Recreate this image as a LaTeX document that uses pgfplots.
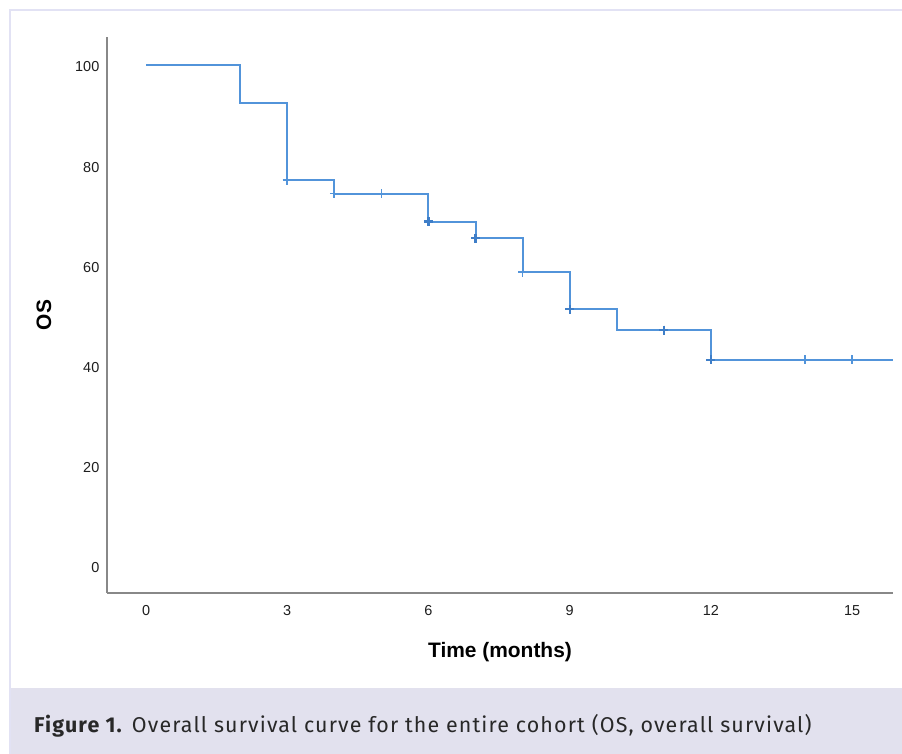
\documentclass[border=0pt]{standalone}
\usepackage{fontspec}
\setmainfont{Liberation Sans}
\newfontfamily\capfont[LetterSpace=5.3]{Fira Sans}
\usepackage{pgfplots}
\pgfplotsset{compat=1.18}
\definecolor{kmblue}{RGB}{82,148,218}
\definecolor{kmdark}{RGB}{62,126,200}
\definecolor{axgray}{RGB}{136,136,136}
\definecolor{band}{RGB}{226,225,238}
\definecolor{frame}{RGB}{226,226,244}
\definecolor{captxt}{RGB}{40,40,40}
\definecolor{ticktxt}{RGB}{30,30,30}
\begin{document}
\begin{tikzpicture}
\path[use as bounding box, fill=white] (0bp,0bp) rectangle (902bp,754bp);
\fill[band] (10bp,0bp) rectangle (902bp,66bp);
\draw[frame, line width=1.2bp] (10bp,0bp) -- (10bp,744bp) -- (902bp,744bp);
\begin{axis}[
  at={(107bp,161bp)}, anchor=south west,
  scale only axis, width=786bp, height=556bp,
  xmin=-0.829, xmax=15.87, ymin=-5.66, ymax=105.5,
  axis lines=left,
  axis line style={-, draw=axgray, line width=1.8bp},
  x axis line style={-}, y axis line style={-},
  xtick={0,3,6,9,12,15}, ytick={0,20,40,60,80,100},
  major tick length=0pt,
  /pgf/number format/assume math mode=true,
  ticklabel style={font=\fontsize{14.5}{14.5}\selectfont, text=ticktxt},
  xticklabel style={anchor=base, inner sep=0pt, yshift=-22.5bp},
  yticklabel style={anchor=east, inner sep=0pt, xshift=-7.5bp, yshift=-2.5bp},
  xlabel={Time (months)},
  ylabel={OS},
  label style={font=\bfseries\fontsize{21}{21}\selectfont, text=black},
  xlabel style={at={(axis description cs:0.5,-0.1156)}, anchor=base, inner sep=0pt},
  ylabel style={at={(axis description cs:-0.0802,0.5)}, anchor=center, inner sep=0pt},
  clip=false,
]
\addplot[const plot, kmblue, line width=2bp] coordinates {
 (0,100) (2,92.3) (3,76.9) (4,74.2) (6,68.6) (7,65.3) (8,58.5) (9,51.1) (10,46.9) (12,41.0) (15.87,41.0)
};
\addplot[only marks, mark=+, mark size=4.5bp, kmblue, mark options={line width=1.6bp}] coordinates {
 (3,76.9) (4,74.2) (5,74.2) (6,68.6) (7,65.3) (8,58.5) (9,51.1) (11,46.9) (12,41.0) (14,41.0) (15,41.0)
};
\addplot[only marks, mark=+, mark size=4.5bp, kmdark, mark options={line width=2.2bp}] coordinates {
 (6,68.6) (7,65.3) (9,51.1) (11,46.9) (12,41.0)
};
\end{axis}
\node[anchor=base west, inner sep=0pt, text=captxt] at (34bp,22bp)
  {\capfont\fontsize{21.5}{24}\selectfont \textbf{Figure 1.} Overall survival curve for the entire cohort (OS, overall survival)};
\end{tikzpicture}
\end{document}
